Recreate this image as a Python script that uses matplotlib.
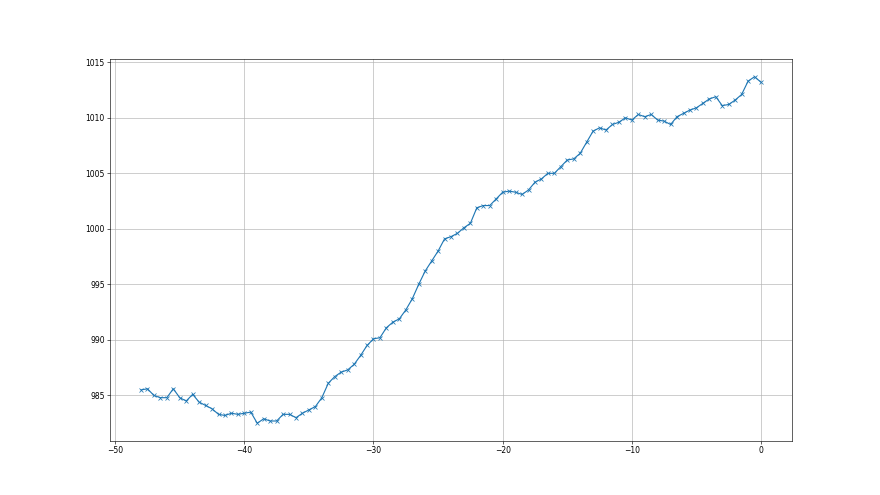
import matplotlib
matplotlib.use("Agg")
import matplotlib.pyplot as plt
import numpy as np

# time offset (steps of 0.5) and pressure readings
t = np.arange(-48, 0.01, 0.5)
pressure = [
    985.5, 985.6, 985.0, 984.8, 984.8, 985.6, 984.8, 984.5, 985.1, 984.4,
    984.1, 983.8, 983.3, 983.2, 983.4, 983.3, 983.4,
    983.5, 982.5, 982.9, 982.7, 982.7, 983.3, 983.3, 983.0, 983.4, 983.7,
    984.0, 984.8, 986.1, 986.7, 987.1, 987.3, 987.8, 988.6, 989.5, 990.1,
    990.2, 991.1, 991.6, 991.9, 992.7, 993.7, 995.0, 996.2, 997.1, 998.0,
    999.1, 999.3, 999.6, 1000.1, 1000.5, 1001.9, 1002.1, 1002.1, 1002.7, 1003.3,
    1003.4, 1003.3, 1003.1, 1003.5, 1004.2, 1004.5, 1005.0, 1005.0, 1005.6, 1006.2,
    1006.3, 1006.8, 1007.8, 1008.8, 1009.1, 1008.9, 1009.4, 1009.6, 1010.0, 1009.8,
    1010.3, 1010.1, 1010.3, 1009.8, 1009.7, 1009.4, 1010.1, 1010.4, 1010.7, 1010.9,
    1011.3, 1011.7, 1011.9, 1011.1, 1011.2, 1011.6, 1012.1, 1013.3, 1013.7, 1013.2,
]

fig, ax = plt.subplots(figsize=(16, 9), dpi=55)
ax.plot(t, pressure, marker="x")
ax.grid()
fig.savefig("out.png")
